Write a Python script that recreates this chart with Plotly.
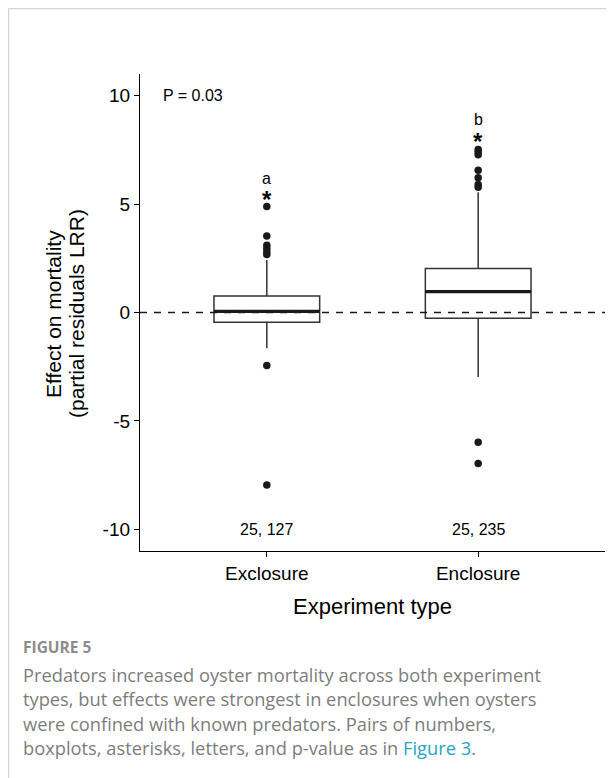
import plotly.graph_objects as go

# ---------------- data ----------------
categories = ["Exclosure", "Enclosure"]
q1 = [-0.45, -0.27]
median = [0.05, 0.96]
q3 = [0.76, 2.03]
lower_fence = [-1.65, -2.98]
upper_fence = [2.42, 5.55]
outliers_exclosure = [4.89, 3.53, 3.10, 2.95, 2.80, 2.68, -2.45, -7.96]
outliers_enclosure = [7.52, 7.40, 7.28, 6.56, 6.21, 5.90, 5.78, -5.99, -6.97]
n_labels = ["25, 127", "25, 235"]
n_label_y = -10
star_y = [5.49, 8.14]
letters = ["a", "b"]
letter_y = [6.2, 8.9]
p_text = "P = 0.03"
p_y = 10
y_ticks = [-10, -5, 0, 5, 10]

# ---------------- layout constants ----------------
OFF = 8                      # page body margin of the html page
W, H = 614 - OFF, 778 - OFF
L, T = 140 - OFF, 74 - OFF   # plot area in page px: x 140..605, y 74..551
R = W - (605 - OFF)
B = H - (551 - OFF)
PW, PH = W - L - R, H - T - B
FONT = "Liberation Sans, Arial, Helvetica, sans-serif"
CAP_FONT = "Open Sans, Noto Sans, sans-serif"
BOX_HALF = 0.25
STAR_SIZE = 24


def px_x(page_px):
    return (page_px - OFF - L) / PW


def px_y(page_py):
    return (H - B - (page_py - OFF)) / PH


xs = list(range(len(categories)))
fig = go.Figure()

fig.add_trace(go.Box(
    x=xs, q1=q1, median=median, q3=q3,
    lowerfence=lower_fence, upperfence=upper_fence,
    width=2 * BOX_HALF, whiskerwidth=0, boxpoints=False,
    fillcolor="white", line=dict(color="#333333", width=1.5),
    showlegend=False, hoverinfo="skip",
))

# thick median lines
mx, my = [], []
for i, m in zip(xs, median):
    mx += [i - BOX_HALF, i + BOX_HALF, None]
    my += [m, m, None]
fig.add_trace(go.Scatter(x=mx, y=my, mode="lines",
                         line=dict(color="#1a1a1a", width=3.2),
                         showlegend=False, hoverinfo="skip"))

# outliers
ox = [0] * len(outliers_exclosure) + [1] * len(outliers_enclosure)
oy = outliers_exclosure + outliers_enclosure
fig.add_trace(go.Scatter(x=ox, y=oy, mode="markers",
                         marker=dict(color="#1a1a1a", size=7.5),
                         showlegend=False, hoverinfo="skip"))

# dashed zero line
fig.add_shape(type="line", xref="paper", yref="y", x0=0, x1=1, y0=0, y1=0,
              line=dict(color="#1a1a1a", width=1.6, dash="7px,7px"), layer="above")

# outer light frame (page edge at ~7.5 px)
fig.add_shape(type="line", xref="paper", yref="paper",
              x0=px_x(8), x1=px_x(613), y0=px_y(8.5), y1=px_y(8.5),
              line=dict(color="#d6d6d6", width=1.5))
fig.add_shape(type="line", xref="paper", yref="paper",
              x0=px_x(8.5), x1=px_x(8.5), y0=px_y(8), y1=px_y(778),
              line=dict(color="#d6d6d6", width=1.5))

ann = []
# P value
ann.append(dict(x=-0.5, y=p_y, xref="x", yref="y", text=p_text, showarrow=False,
                xanchor="left", yanchor="middle", font=dict(family=FONT, size=16, color="black")))
for i in xs:
    ann.append(dict(x=i, y=n_label_y, xref="x", yref="y", text=n_labels[i], showarrow=False,
                    xanchor="center", yanchor="middle", font=dict(family=FONT, size=16, color="black")))
    # asterisk (glyph sits high in its text box -> shift down to center glyph on value)
    ann.append(dict(x=i, y=star_y[i], xref="x", yref="y", text="<b>*</b>", showarrow=False,
                    xanchor="center", yanchor="middle", yshift=-0.235 * STAR_SIZE, borderpad=0,
                    font=dict(family=FONT, size=STAR_SIZE, color="black")))
    ann.append(dict(x=i, y=letter_y[i], xref="x", yref="y", text=letters[i], showarrow=False,
                    xanchor="center", yanchor="middle", borderpad=0,
                    font=dict(family=FONT, size=16, color="black")))

# axis titles
ann.append(dict(x=0.5, y=px_y(606), xref="paper", yref="paper", text="Experiment type",
                showarrow=False, xanchor="center", yanchor="middle",
                font=dict(family=FONT, size=22, color="black")))
ann.append(dict(x=px_x(53), y=px_y(314), xref="paper", yref="paper", text="Effect on mortality",
                showarrow=False, textangle=-90, xanchor="center", yanchor="middle",
                font=dict(family=FONT, size=21, color="black")))
ann.append(dict(x=px_x(76), y=px_y(314), xref="paper", yref="paper", text="(partial residuals LRR)",
                showarrow=False, textangle=-90, xanchor="center", yanchor="middle",
                font=dict(family=FONT, size=21, color="black")))

# caption
CAP_X = 21
ann.append(dict(x=px_x(CAP_X), y=px_y(647), xref="paper", yref="paper", text="<b>FIGURE 5</b>",
                showarrow=False, xanchor="left", yanchor="middle",
                font=dict(family=CAP_FONT, size=15.5, color="#8c8c8c")))
cap_lines = [
    "Predators increased oyster mortality across both experiment",
    "types, but effects were strongest in enclosures when oysters",
    "were confined with known predators. Pairs of numbers,",
    "boxplots, asterisks, letters, and p-value as in <span style='color:#27a3c4'>Figure 3</span>.",
]
for k, line in enumerate(cap_lines):
    ann.append(dict(x=px_x(CAP_X), y=px_y(674 + 24.6 * k), xref="paper", yref="paper", text=line,
                    showarrow=False, xanchor="left", yanchor="middle",
                    font=dict(family=CAP_FONT, size=18.3, color="#7d7d7d")))

fig.update_layout(
    width=W, height=H, autosize=False,
    margin=dict(l=L, r=R, t=T, b=B, pad=0),
    paper_bgcolor="white", plot_bgcolor="white",
    annotations=ann, showlegend=False,
    xaxis=dict(range=[-0.6, 1.6], tickvals=xs, ticktext=categories, showgrid=False,
               zeroline=False, showline=True, linecolor="black", linewidth=1.3,
               ticks="outside", ticklen=5, tickwidth=1.3, tickcolor="black",
               tickfont=dict(family=FONT, size=19, color="black")),
    yaxis=dict(range=[-11, 11], tickvals=y_ticks, ticktext=[str(v) for v in y_ticks],
               showgrid=False, zeroline=False,
               showline=True, linecolor="black", linewidth=1.3,
               ticks="outside", ticklen=5, tickwidth=1.3, tickcolor="black",
               tickfont=dict(family=FONT, size=19, color="black")),
)

fig.write_html("out.html")
